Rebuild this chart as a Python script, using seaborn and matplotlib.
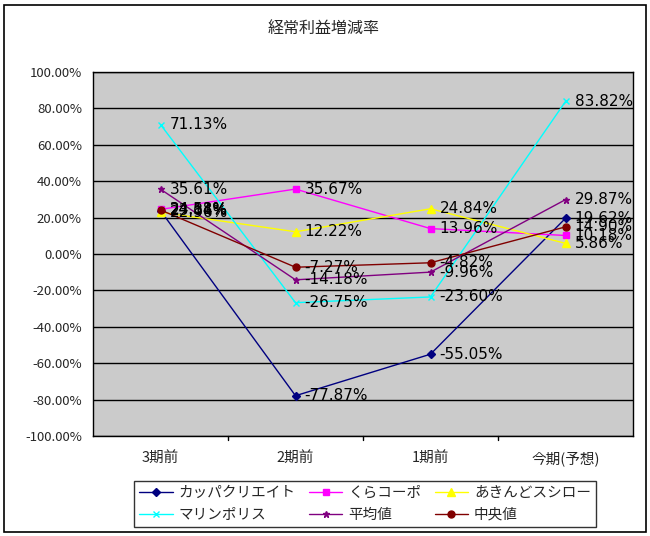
import matplotlib
matplotlib.use("Agg")
import matplotlib.pyplot as plt
import seaborn as sns
import pandas as pd
from matplotlib.ticker import FuncFormatter, MultipleLocator
from matplotlib.patches import Rectangle

categories = ["3期前", "2期前", "1期前", "今期(予想)"]
series_names = ["カッパクリエイト", "くらコーポ", "あきんどスシロー", "マリンポリス", "平均値", "中央値"]
kappa = [23.84, -77.87, -55.05, 19.62]
kura = [24.51, 35.67, 13.96, 10.18]
akindo = [22.96, 12.22, 24.84, 5.86]
marine = [71.13, -26.75, -23.60, 83.82]
heikin = [35.61, -14.18, -9.96, 29.87]
chuo = [24.18, -7.27, -4.82, 14.90]
values = [kappa, kura, akindo, marine, heikin, chuo]

colors = ["#000080", "#ff00ff", "#ffff00", "#00ffff", "#800080", "#800000"]
markers = ["D", "s", "^", "x", "*", "o"]
msizes = [4, 5, 6, 4, 5, 5]

sns.set_theme(style="white")
plt.rcParams["font.family"] = ["Noto Sans CJK JP", "DejaVu Sans"]

rows = []
for name, vals in zip(series_names, values):
    for c, v in zip(categories, vals):
        rows.append({"期": c, "値": v, "系列": name})
df = pd.DataFrame(rows)

fig = plt.figure(figsize=(6.5, 5.36), dpi=100)
fig.patches.append(Rectangle((4/650, 4/536), 642/650, 527/536, transform=fig.transFigure,
                             fill=False, edgecolor="black", linewidth=1.2))
ax = fig.add_axes([93/650, 1 - 436/536, 540/650, 364/536])
ax.set_facecolor("#cbcbcb")

for name, col, mk, ms in zip(series_names, colors, markers, msizes):
    sub = df[df["系列"] == name]
    sns.lineplot(data=sub, x="期", y="値", color=col, marker=mk, markersize=ms,
                 markeredgecolor=col, markerfacecolor=col, linewidth=1.0,
                 sort=False, ax=ax, label=name, markeredgewidth=1.0)
    for i, v in enumerate(sub["値"]):
        ax.annotate(f"{v:.2f}%", (i, v), xytext=(6.5, 0), textcoords="offset points",
                    va="center", ha="left", fontsize=11, color="black",
                    family="DejaVu Sans")

ax.set_xlim(-0.5, 3.5)
ax.set_ylim(-100, 100)
ax.yaxis.set_major_locator(MultipleLocator(20))
ax.yaxis.set_major_formatter(FuncFormatter(lambda v, p: f"{v:.2f}%"))
ax.grid(axis="y", color="black", linewidth=1)
ax.set_axisbelow(True)
ax.set_xlabel("")
ax.set_ylabel("")
for s in ax.spines.values():
    s.set_color("black")
    s.set_linewidth(1)
ax.tick_params(axis="y", labelsize=9.5, length=0, pad=8)
ax.tick_params(axis="x", labelsize=10.5, length=0, pad=11)
ax.set_xticks(range(len(categories)))
ax.set_xticklabels(categories)
for xb in [0.5, 1.5, 2.5]:
    ax.plot([xb, xb], [0, -0.012], transform=ax.get_xaxis_transform(), color="black",
            linewidth=1, clip_on=False)

fig.text(324/650, 1 - 28/536, "経常利益増減率", ha="center", va="center", fontsize=11.5)

ax.legend_.remove()
handles, labels = ax.get_legend_handles_labels()
order = [0, 3, 1, 4, 2, 5]
leg = fig.legend([handles[i] for i in order], [labels[i] for i in order], ncol=3,
                 loc="lower left", bbox_to_anchor=(134/650, 9/536, 462/650, 49/536),
                 mode="expand", frameon=True,
                 fancybox=False, edgecolor="black", fontsize=10.5, handlelength=2.3,
                 borderpad=0.35, labelspacing=0.55, handletextpad=0.4, borderaxespad=0)
leg.get_frame().set_linewidth(1)
leg.get_frame().set_facecolor("white")

fig.savefig("out.png", dpi=100)
